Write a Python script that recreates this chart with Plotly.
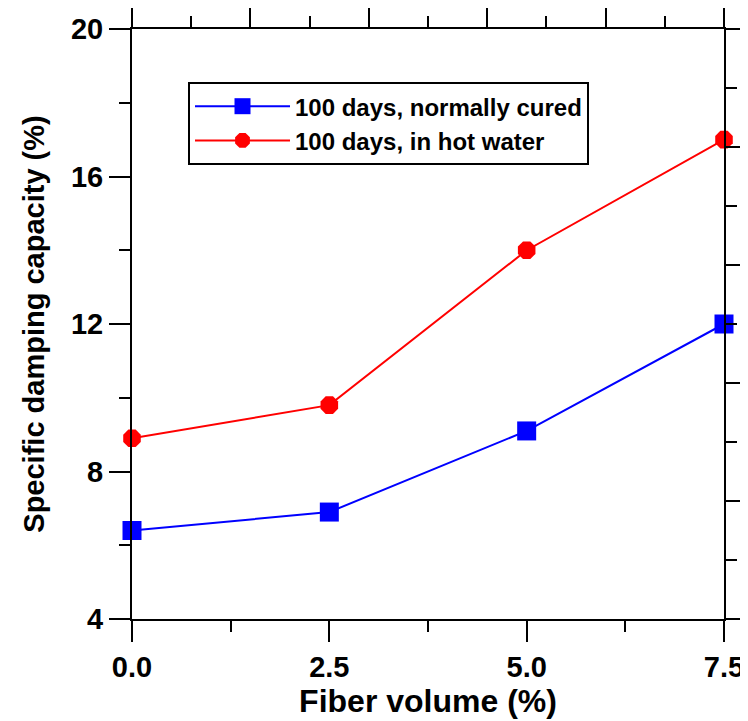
import plotly.graph_objects as go

fiber_volume = [0.0, 2.5, 5.0, 7.5]
normally_cured = [6.4, 6.9, 9.1, 12.0]
hot_water = [8.9, 9.8, 14.0, 17.0]
series_names = ["100 days, normally cured", "100 days, in hot water"]

FONT = "Liberation Sans, Arial, sans-serif"

fig = go.Figure()
fig.add_trace(go.Scatter(
    x=fiber_volume, y=normally_cured, name=series_names[0],
    mode="lines+markers", cliponaxis=False,
    line=dict(color="#0000FF", width=2),
    marker=dict(symbol="square", size=19, color="#0000FF"),
))
fig.add_trace(go.Scatter(
    x=fiber_volume, y=hot_water, name=series_names[1],
    mode="lines+markers", cliponaxis=False,
    line=dict(color="#FF0000", width=2),
    marker=dict(symbol="octagon", size=19, color="#FF0000"),
))
# empty helper trace so the decorative top/right frame axes are drawn
fig.add_trace(go.Scatter(x=[], y=[], xaxis="x2", yaxis="y2",
                         showlegend=False, hoverinfo="skip"))

axis_common = dict(
    showline=True, linecolor="black", linewidth=2,
    ticks="outside", tickcolor="black", tickwidth=2, ticklen=21,
    showgrid=False, zeroline=False, automargin=False,
    tickfont=dict(family=FONT, size=29, color="black", weight="bold"),
)
minor_common = dict(ticks="outside", ticklen=11, tickwidth=2, tickcolor="black", showgrid=False)

fig.update_layout(
    width=740, height=713,
    margin=dict(l=124, r=24, t=21, b=102),
    paper_bgcolor="white", plot_bgcolor="white",
    showlegend=True,
    legend=dict(
        x=0.0946, y=0.91, xanchor="left", yanchor="top",
        bgcolor="white", bordercolor="black", borderwidth=2,
        font=dict(family=FONT, size=24, color="black", weight="bold"),
        itemwidth=95,
    ),
    xaxis=dict(
        range=[0, 7.5], dtick=2.5, tick0=0, tickformat=".1f",
        minor=dict(dtick=1.25, **minor_common),
        title=dict(text="Fiber volume (%)", standoff=0,
                   font=dict(family=FONT, size=32, color="black", weight="bold")),
        **axis_common,
    ),
    yaxis=dict(
        range=[4, 20], dtick=4, tick0=0,
        minor=dict(dtick=2, **minor_common),
        title=dict(text="Specific damping capacity (%)", standoff=18,
                   font=dict(family=FONT, size=29, color="black", weight="bold")),
        **axis_common,
    ),
    xaxis2=dict(
        overlaying="x", side="top", anchor="y", range=[0, 5], dtick=1, tick0=0,
        showticklabels=False,
        minor=dict(dtick=0.5, **minor_common),
        **axis_common,
    ),
    yaxis2=dict(
        overlaying="y", side="right", anchor="x", range=[0, 5], dtick=1, tick0=0,
        showticklabels=False,
        minor=dict(dtick=0.5, **minor_common),
        **axis_common,
    ),
)

fig.write_html("out.html")
